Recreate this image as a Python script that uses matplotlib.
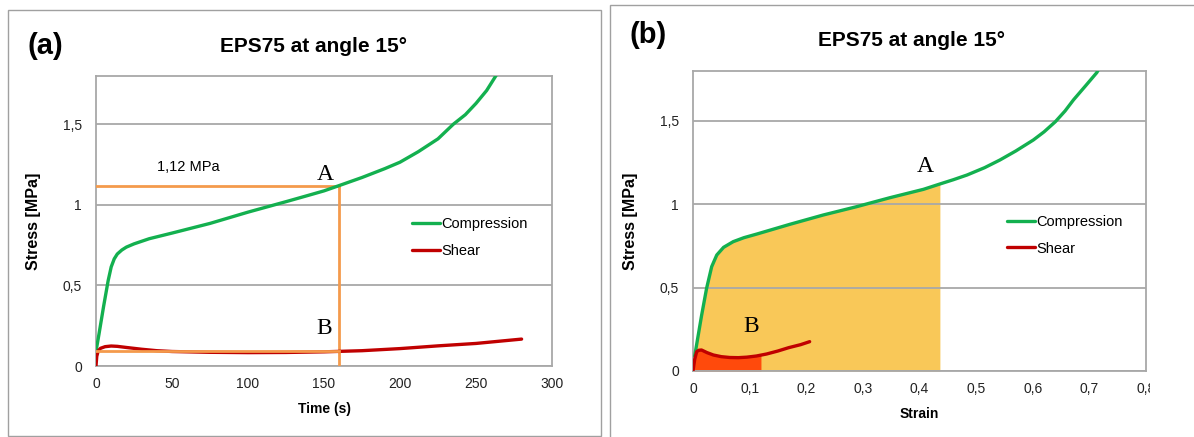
import numpy as np
import matplotlib
matplotlib.use("Agg")
import matplotlib.pyplot as plt
from matplotlib.patches import Rectangle
from matplotlib.transforms import Bbox

# ---------------- data ----------------
title_text = "EPS75 at angle 15°"

# Panel (a): stress vs time
time_comp = [0, 2, 5, 8, 10, 12, 14, 17, 20, 25, 35, 50, 75, 100, 125, 140, 150, 160, 175, 190, 200, 212, 225, 235, 243, 250, 257, 263, 266]
stress_comp_t = [0.09, 0.2, 0.37, 0.53, 0.615, 0.665, 0.695, 0.72, 0.738, 0.758, 0.79, 0.825, 0.885, 0.955, 1.02, 1.06, 1.087, 1.12, 1.17, 1.225, 1.265, 1.33, 1.41, 1.5, 1.56, 1.63, 1.71, 1.8, 1.85]
time_shear = [0, 0.5, 1.5, 3, 6, 10, 14, 20, 30, 40, 50, 75, 100, 125, 150, 175, 200, 225, 250, 280]
stress_shear_t = [0.0, 0.06, 0.095, 0.11, 0.12, 0.124, 0.122, 0.115, 0.104, 0.095, 0.09, 0.085, 0.083, 0.084, 0.088, 0.095, 0.108, 0.125, 0.14, 0.167]
point_A_time = 160
point_A_stress = 1.12
point_B_stress = 0.093
label_A_stress = "1,12 MPa"

# Panel (b): stress vs strain
strain_comp = [0.003, 0.008, 0.015, 0.024, 0.033, 0.042, 0.054, 0.071, 0.09, 0.113, 0.171, 0.23, 0.289, 0.348, 0.407, 0.436, 0.46, 0.484, 0.515, 0.542, 0.57, 0.601, 0.62, 0.64, 0.657, 0.672, 0.693, 0.713, 0.725]
stress_comp_e = [0.09, 0.19, 0.33, 0.496, 0.626, 0.696, 0.742, 0.776, 0.8, 0.822, 0.88, 0.936, 0.986, 1.04, 1.09, 1.122, 1.148, 1.176, 1.22, 1.266, 1.32, 1.386, 1.435, 1.496, 1.56, 1.627, 1.71, 1.79, 1.86]
strain_shear = [0, 0.003, 0.0065, 0.01, 0.015, 0.025, 0.036, 0.05, 0.065, 0.08, 0.095, 0.112, 0.13, 0.15, 0.169, 0.19, 0.206]
stress_shear_e = [0, 0.07, 0.116, 0.124, 0.126, 0.11, 0.096, 0.086, 0.081, 0.08, 0.083, 0.09, 0.102, 0.12, 0.14, 0.158, 0.176]
strain_A = 0.436
strain_B = 0.12

yticks = [0, 0.5, 1, 1.5]
ytick_labels = ["0", "0,5", "1", "1,5"]
xticks_a = [0, 50, 100, 150, 200, 250, 300]
xtick_labels_a = ["0", "50", "100", "150", "200", "250", "300"]
xticks_b = [0, 0.1, 0.2, 0.3, 0.4, 0.5, 0.6, 0.7, 0.8]
xtick_labels_b = ["0", "0,1", "0,2", "0,3", "0,4", "0,5", "0,6", "0,7", "0,8"]
legend_labels = ["Compression", "Shear"]

# ---------------- style ----------------
GREEN = "#13B04F"
RED = "#C00000"
ORANGE = "#F49A4C"
FILL_LIGHT = "#F9C858"
FILL_RED = "#FF4A0C"
GRID = "#A8A8A8"
SANS = ["Liberation Sans", "DejaVu Sans"]
SERIF = ["Liberation Serif", "DejaVu Serif"]

W, H = 1194, 437
fig = plt.figure(figsize=(W / 100, H / 100), dpi=100)
fig.patch.set_facecolor("white")


def fx(px):
    return px / W


def fy(py):
    return 1 - py / H


# panel frames
fig.patches.append(Rectangle((fx(8), fy(436)), fx(601) - fx(8), fy(10) - fy(436),
                             transform=fig.transFigure, fill=False, edgecolor="#A0A0A0", lw=1.0))
fig.patches.append(Rectangle((fx(610), fy(445)), fx(1210) - fx(610), fy(5) - fy(445),
                             transform=fig.transFigure, fill=False, edgecolor="#A0A0A0", lw=1.0))

ax1 = fig.add_axes([fx(96), fy(366), fx(552) - fx(96), fy(76) - fy(366)])
ax2 = fig.add_axes([fx(693), fy(371), fx(1146) - fx(693), fy(71) - fy(371)])


def style_axes(ax, xticks, xlabels, xlim, xlabel):
    ax.set_xlim(*xlim)
    ax.set_ylim(0, 1.8)
    ax.set_yticks(yticks)
    ax.set_yticklabels(ytick_labels, family=SANS, fontsize=10, color="#222222")
    ax.set_xticks(xticks)
    ax.set_xticklabels(xlabels, family=SANS, fontsize=10, color="#222222")
    ax.tick_params(axis="both", length=0)
    ax.tick_params(axis="y", pad=10)
    ax.tick_params(axis="x", pad=8)
    ax.set_axisbelow(True)
    ax.yaxis.grid(True, color=GRID, lw=1.3)
    ax.xaxis.grid(False)
    for s in ax.spines.values():
        s.set_color(GRID)
        s.set_linewidth(1.3)
    ax.set_xlabel(xlabel, family=SANS, fontsize=10, fontweight="bold", labelpad=8)
    ax.set_ylabel("Stress [MPa]", family=SANS, fontsize=11.5, fontweight="bold", labelpad=16)


# ----- panel (a) -----
style_axes(ax1, xticks_a, xtick_labels_a, (0, 300), "Time (s)")
ax1.plot([0, point_A_time], [point_A_stress, point_A_stress], color=ORANGE, lw=2, zorder=3)
ax1.plot([point_A_time, point_A_time], [0, point_A_stress], color=ORANGE, lw=2, zorder=3)
l1, = ax1.plot(time_comp, stress_comp_t, color=GREEN, lw=2.4, zorder=4, solid_capstyle="round")
l2, = ax1.plot(time_shear, stress_shear_t, color=RED, lw=2.4, zorder=4, solid_capstyle="round")
ax1.plot([0, point_A_time], [point_B_stress, point_B_stress], color=ORANGE, lw=2, zorder=5)
ax1.text(40, 1.235, label_A_stress, family=SANS, fontsize=10.5, va="center", ha="left")
ax1.text(151, 1.19, "A", family=SERIF, fontsize=17, ha="center", va="center")
ax1.text(150, 0.235, "B", family=SERIF, fontsize=17, ha="center", va="center")
ax1.legend([l1, l2], legend_labels, loc="center left", bbox_to_anchor=(0.693, 0.443),
           frameon=False, prop={"family": SANS, "size": 10.5}, handlelength=1.9,
           handletextpad=0.1, borderpad=0, borderaxespad=0, labelspacing=0.85)

# ----- panel (b) -----
style_axes(ax2, xticks_b, xtick_labels_b, (0, 0.8), "Strain")
xc = [x for x in strain_comp if x < strain_A] + [strain_A]
yc = np.interp(xc, strain_comp, stress_comp_e)
ax2.fill_between(xc, 0, yc, color=FILL_LIGHT, lw=0, zorder=0.2)
xs = [x for x in strain_shear if x < strain_B] + [strain_B]
ys = np.interp(xs, strain_shear, stress_shear_e)
ax2.fill_between(xs, 0, ys, color=FILL_RED, lw=0, zorder=0.3)
m1, = ax2.plot(strain_comp, stress_comp_e, color=GREEN, lw=2.4, zorder=4, solid_capstyle="round")
m2, = ax2.plot(strain_shear, stress_shear_e, color=RED, lw=2.4, zorder=4, solid_capstyle="round")
ax2.text(0.41, 1.23, "A", family=SERIF, fontsize=17, ha="center", va="center")
ax2.text(0.103, 0.27, "B", family=SERIF, fontsize=17, ha="center", va="center")
ax2.legend([m1, m2], legend_labels, loc="center left", bbox_to_anchor=(0.693, 0.452),
           frameon=False, prop={"family": SANS, "size": 10.5}, handlelength=1.9,
           handletextpad=0.1, borderpad=0, borderaxespad=0, labelspacing=0.85)

# clip the last x tick label of panel (b) like the reference
clip = Bbox.from_extents(0, 0, 1150, H)
for lab in ax2.get_xticklabels():
    lab.set_clip_box(clip)
    lab.set_clip_on(True)

# titles and panel letters
fig.text(fx(313), fy(47), title_text, family=SANS, fontsize=15, fontweight="bold",
         ha="center", va="center")
fig.text(fx(911), fy(40), title_text, family=SANS, fontsize=15, fontweight="bold",
         ha="center", va="center")
fig.text(fx(45), fy(46), "(a)", family=SANS, fontsize=21, fontweight="bold", ha="center", va="center")
fig.text(fx(648), fy(35), "(b)", family=SANS, fontsize=21, fontweight="bold", ha="center", va="center")

fig.savefig("out.png", dpi=100)
